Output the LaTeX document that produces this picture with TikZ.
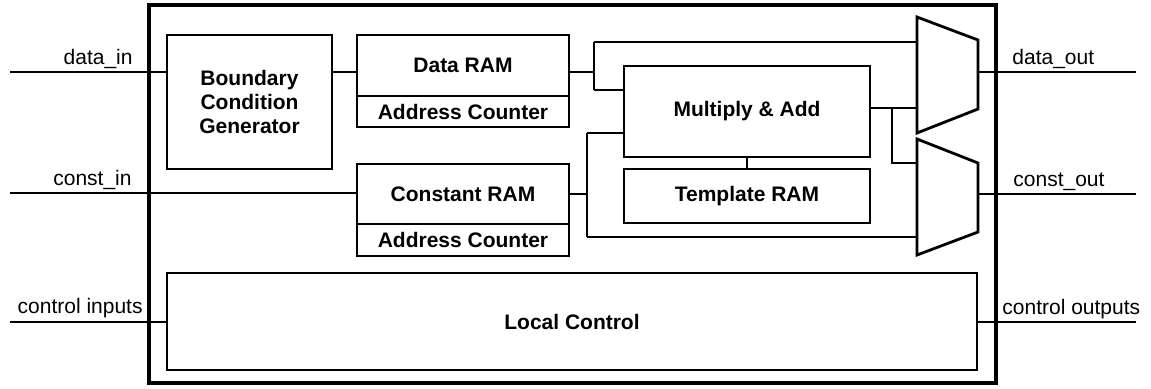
\documentclass[tikz,border=0pt]{standalone}
\usepackage{fontspec}
\setmainfont{Liberation Sans}
\begin{document}
\begin{tikzpicture}[x=0.5pt,y=-0.5pt,
  every node/.style={font=\fontsize{10.5}{12}\selectfont},
  outerbox/.style={draw, line width=1.6pt, inner sep=0pt},
  box/.style={draw, line width=1.4pt, inner sep=0pt, align=center,
    font=\fontsize{10.5}{12}\selectfont\bfseries},
  wire/.style={line width=1.1pt},
  muxshape/.style={draw, line width=1.4pt, line join=miter},
  lbl/.style={inner sep=0pt}]
\useasboundingbox (0,0) rectangle (1151,388);

% outer frame
\node[outerbox, minimum width=423.5pt, minimum height=189pt] (outer) at (572.5,194) {};

% blocks
\node[box, minimum width=82.5pt, minimum height=67pt] (bcg) at (249.5,102) {Boundary\\Condition\\Generator};
\node[box, minimum width=106pt, minimum height=30.5pt] (dram) at (463,65.5) {Data RAM};
\node[box, minimum width=106pt, minimum height=15.5pt] (dac) at (463,111.5) {Address Counter};
\node[box, minimum width=106pt, minimum height=30pt] (cram) at (463,194) {Constant RAM};
\node[box, minimum width=106pt, minimum height=16pt] (cac) at (463,240) {Address Counter};
\node[box, minimum width=123pt, minimum height=45.5pt] (mul) at (747,111.5) {Multiply \& Add};
\node[box, minimum width=123pt, minimum height=27pt] (tpl) at (747,196) {Template RAM};
\node[box, minimum width=405pt, minimum height=48.5pt] (lc) at (572,321.5) {Local Control};

% multiplexers
\coordinate (m1a) at (917,17);
\coordinate (m1b) at (978,40);
\coordinate (m1c) at (978,109);
\coordinate (m1d) at (917,133);
\coordinate (m2a) at (917,139);
\coordinate (m2b) at (978,163);
\coordinate (m2c) at (978,232);
\coordinate (m2d) at (917,255);
\draw[muxshape] (m1a) -- (m1b) -- (m1c) -- (m1d) -- cycle;
\draw[muxshape] (m2a) -- (m2b) -- (m2c) -- (m2d) -- cycle;

% external ends
\coordinate (din) at (10,72);
\coordinate (cin) at (10,193);
\coordinate (ctin) at (10,322);
\coordinate (dout) at (1136,72);
\coordinate (cout) at (1136,194);
\coordinate (ctout) at (1136,322);

% junction points
\coordinate (j1) at (594,72);
\coordinate (j1t) at (594,42);
\coordinate (j1b) at (594,90);
\coordinate (j2) at (587,194);
\coordinate (j2t) at (587,133);
\coordinate (j2b) at (587,237);
\coordinate (j3) at (892,108);
\coordinate (j3b) at (892,163);

% wires
\draw[wire] (din) -- (din -| bcg.west);
\draw[wire] (bcg.east |- din) -- (dram.west |- din);
\draw[wire] (cin) -- (cin -| cram.west);
\draw[wire] (ctin) -- (ctin -| lc.west);
\draw[wire] (dram.east |- j1) -- (j1);
\draw[wire] (j1t) -- (j1b);
\draw[wire] (j1t) -- (j1t -| m1a);
\draw[wire] (j1b) -- (j1b -| mul.west);
\draw[wire] (cram.east |- j2) -- (j2);
\draw[wire] (j2t) -- (j2b);
\draw[wire] (j2t) -- (j2t -| mul.west);
\draw[wire] (j2b) -- (j2b -| m2a);
\draw[wire] (mul.south) -- (tpl.north);
\draw[wire] (mul.east |- j3) -- (j3 -| m1a);
\draw[wire] (j3) -- (j3b) -- (j3b -| m2a);
\draw[wire] (m1b |- dout) -- (dout);
\draw[wire] (m2b |- cout) -- (cout);
\draw[wire] (lc.east |- ctout) -- (ctout);

% labels
\node[lbl, anchor=base east] (ldin) at (133,64) {data\_in};
\node[lbl, anchor=base east] (lcin) at (132,185) {const\_in};
\node[lbl, anchor=base east] (lctin) at (143,313) {control inputs};
\node[lbl, anchor=base west] (ldout) at (1012,64) {data\_out};
\node[lbl, anchor=base west] (lcout) at (1013,186) {const\_out};
\node[lbl, anchor=base west] (lctout) at (1002,314) {control outputs};
\end{tikzpicture}
\end{document}
